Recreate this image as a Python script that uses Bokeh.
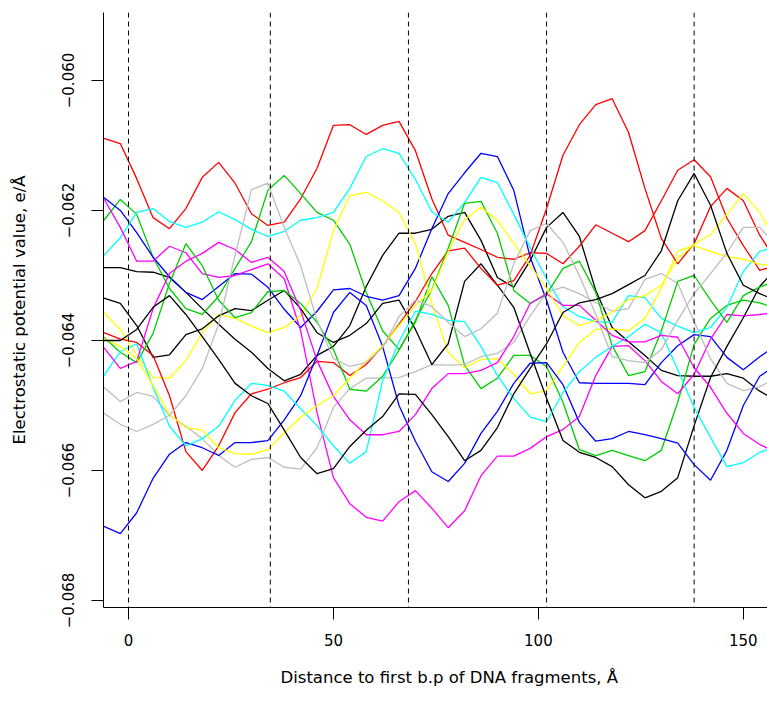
from bokeh.plotting import figure
from bokeh.models import Range1d, FixedTicker, Span, Title
from bokeh.embed import file_html
from bokeh.resources import INLINE

# Sample positions along the DNA (Å)
X = [-6, -2, 2, 6, 10, 14, 18, 22, 26, 30, 34, 38, 42, 46, 50, 54, 58, 62, 66, 70, 74,
     78, 82, 86, 90, 94, 98, 102, 106, 110, 114, 118, 122, 126, 130, 134, 138, 142, 146,
     150, 154, 158]

# Potential values in units of 1e-3 e/Å
black1 = [-62.88, -62.88, -62.94, -62.95, -63.03, -63.26, -63.51, -63.75, -63.98, -64.18,
          -64.43, -64.62, -64.52, -64.23, -64.09, -63.77, -63.17, -62.69, -62.35, -62.35,
          -62.29, -62.09, -62.03, -62.46, -63.03, -63.18, -62.77, -62.26, -62.03, -62.40,
          -63.23, -63.80, -64.02, -64.23, -64.46, -64.54, -64.55, -64.55, -64.51, -64.58,
          -64.78, -64.92]
red1 = [-60.89, -60.97, -61.51, -62.11, -62.28, -61.97, -61.49, -61.26, -61.58, -62.05,
        -62.23, -62.18, -61.82, -61.35, -60.69, -60.68, -60.83, -60.69, -60.63, -61.08,
        -61.82, -62.38, -62.49, -62.60, -62.72, -62.75, -62.65, -62.66, -62.82, -62.55,
        -62.22, -62.35, -62.48, -62.31, -61.85, -61.38, -61.22, -61.48, -62.12, -62.54,
        -62.92, -62.85]
green1 = [-62.15, -61.83, -62.06, -62.72, -63.20, -63.51, -63.60, -63.32, -62.89, -62.48,
          -61.69, -61.46, -61.74, -62.03, -62.15, -62.52, -63.26, -63.85, -64.14, -63.72,
          -63.02, -63.46, -64.38, -64.74, -64.58, -64.23, -64.23, -64.40, -64.95, -65.68,
          -65.77, -65.69, -65.77, -65.85, -65.69, -64.95, -64.06, -63.66, -63.46, -63.38,
          -63.42, -63.51]
blue1 = [-61.80, -62.00, -62.34, -62.72, -63.02, -63.26, -63.37, -63.17, -62.97, -62.98,
         -63.18, -63.52, -63.80, -63.55, -63.22, -63.20, -63.32, -63.38, -63.31, -62.89,
         -62.28, -61.74, -61.42, -61.12, -61.17, -61.69, -62.72, -63.38, -64.18, -64.65,
         -64.66, -64.66, -64.66, -64.68, -64.34, -64.08, -63.91, -63.94, -64.26, -64.45,
         -64.25, -64.08]
cyan1 = [-62.69, -62.42, -62.03, -61.97, -62.17, -62.26, -62.18, -62.02, -62.14, -62.29,
         -62.40, -62.32, -62.15, -62.11, -62.03, -61.66, -61.17, -61.05, -61.12, -61.52,
         -62.02, -62.18, -61.88, -61.49, -61.57, -62.06, -62.57, -63.05, -63.48, -63.63,
         -63.71, -63.72, -63.31, -63.34, -63.66, -63.78, -63.88, -63.80, -63.49, -62.94,
         -62.63, -62.55]
magenta1 = [-61.82, -62.26, -62.78, -62.78, -62.55, -62.65, -62.97, -63.03, -63.00, -62.91,
            -62.82, -63.05, -63.85, -65.11, -66.11, -66.51, -66.72, -66.78, -66.48, -66.31,
            -66.58, -66.88, -66.62, -66.08, -65.78, -65.78, -65.66, -65.48, -65.37, -65.17,
            -64.54, -64.09, -64.08, -64.31, -64.63, -64.82, -64.52, -63.98, -63.60, -63.62,
            -63.60, -63.57]
yellow1 = [-63.57, -63.83, -64.22, -64.57, -64.58, -64.31, -63.88, -63.60, -63.66, -63.78,
           -63.88, -63.80, -63.62, -63.20, -62.31, -61.77, -61.72, -61.85, -62.03, -62.51,
           -63.43, -64.18, -64.42, -64.29, -64.28, -64.52, -64.82, -64.77, -64.40, -64.03,
           -63.83, -63.82, -63.85, -63.66, -63.20, -62.62, -62.54, -62.63, -62.71, -62.75,
           -62.83, -62.86]
gray1 = [-64.72, -64.94, -64.80, -64.86, -65.15, -65.32, -65.51, -65.77, -65.95, -65.83,
         -65.80, -65.95, -65.98, -65.65, -65.03, -64.74, -64.58, -64.58, -64.57, -64.48,
         -64.37, -64.38, -64.37, -64.25, -64.20, -64.03, -63.62, -63.26, -63.18, -63.28,
         -63.42, -63.55, -63.51, -63.06, -62.97, -63.12, -63.71, -64.28, -64.66, -64.77,
         -64.71, -64.58]
black2 = [-63.35, -63.43, -63.77, -64.26, -64.22, -63.91, -63.82, -63.62, -63.51, -63.54,
          -63.38, -63.23, -63.51, -63.88, -64.03, -63.92, -63.74, -63.43, -63.38, -63.83,
          -64.37, -64.05, -63.09, -62.82, -63.15, -63.49, -64.20, -64.89, -65.54, -65.72,
          -65.80, -65.94, -66.22, -66.42, -66.32, -66.11, -65.31, -64.57, -64.09, -63.65,
          -63.17, -62.89]
red2 = [-63.88, -63.98, -64.03, -64.23, -64.85, -65.71, -66.00, -65.62, -65.11, -64.82,
        -64.75, -64.65, -64.57, -64.32, -64.34, -64.54, -64.37, -64.09, -63.75, -63.40,
        -62.97, -62.62, -62.58, -62.89, -63.15, -63.08, -62.69, -61.97, -61.15, -60.68,
        -60.37, -60.28, -60.80, -61.66, -62.43, -62.82, -62.51, -61.94, -61.66, -61.85,
        -62.38, -62.77]
green2 = [-63.95, -64.18, -64.34, -63.89, -63.12, -62.51, -62.85, -63.38, -63.65, -63.57,
          -63.25, -63.23, -63.43, -63.72, -64.14, -64.75, -64.78, -64.55, -64.15, -63.69,
          -63.22, -62.58, -61.89, -61.86, -62.35, -63.23, -63.43, -63.29, -62.89, -62.78,
          -63.26, -64.08, -64.54, -64.48, -63.85, -63.09, -63.00, -63.38, -63.72, -63.31,
          -63.18, -63.08]
blue2 = [-66.86, -66.97, -66.65, -66.12, -65.75, -65.57, -65.65, -65.77, -65.57, -65.57,
         -65.54, -65.22, -64.85, -64.23, -63.57, -63.26, -63.46, -64.09, -65.00, -65.55,
         -66.02, -66.17, -65.89, -65.43, -65.09, -64.66, -64.35, -64.34, -64.68, -65.26,
         -65.55, -65.51, -65.40, -65.45, -65.51, -65.58, -65.91, -66.15, -65.69, -65.00,
         -64.55, -64.38]
cyan2 = [-64.54, -64.17, -64.05, -64.72, -65.32, -65.62, -65.51, -65.32, -64.92, -64.66,
         -64.69, -64.78, -65.05, -65.31, -65.62, -65.89, -65.71, -64.62, -64.02, -63.55,
         -63.60, -63.69, -63.71, -64.09, -64.54, -64.89, -65.18, -65.25, -64.80, -64.48,
         -64.26, -64.09, -63.94, -63.75, -63.88, -64.45, -65.03, -65.49, -65.94, -65.88,
         -65.72, -65.63]
magenta2 = [-64.11, -64.43, -64.32, -63.51, -62.97, -62.78, -62.66, -62.49, -62.60, -62.80,
            -62.72, -62.94, -63.54, -64.31, -64.86, -65.22, -65.45, -65.45, -65.40, -65.14,
            -64.74, -64.51, -64.51, -64.46, -64.34, -63.94, -63.43, -63.28, -63.46, -63.46,
            -63.69, -63.92, -64.02, -64.02, -63.92, -63.95, -64.42, -64.72, -65.12, -65.43,
            -65.60, -65.72]
yellow2 = [-63.97, -64.09, -64.28, -64.69, -65.14, -65.34, -65.38, -65.65, -65.74, -65.75,
           -65.68, -65.42, -65.18, -65.00, -64.85, -64.58, -64.32, -64.08, -63.77, -63.46,
           -63.23, -62.63, -62.14, -61.95, -62.15, -62.51, -62.85, -63.20, -63.62, -63.77,
           -63.69, -63.57, -63.37, -63.31, -63.15, -62.74, -62.52, -62.37, -62.06, -61.74,
           -62.03, -62.46]
gray2 = [-65.12, -65.29, -65.40, -65.29, -65.15, -64.85, -64.43, -63.75, -62.69, -61.68,
         -61.58, -62.26, -62.85, -63.69, -64.28, -64.40, -64.34, -64.11, -63.63, -63.38,
         -63.48, -63.72, -63.94, -63.82, -63.58, -62.82, -62.31, -62.20, -62.49, -63.00,
         -63.60, -64.25, -64.31, -64.34, -64.14, -63.69, -63.28, -62.97, -62.65, -62.26,
         -62.26, -62.54]
black3 = [-64.00, -64.00, -63.83, -63.49, -63.31, -63.60, -63.94, -64.29, -64.66, -64.85,
          -64.97, -65.38, -65.80, -66.05, -65.97, -65.63, -65.38, -65.17, -64.82, -64.83,
          -65.14, -65.48, -65.85, -65.69, -65.34, -64.82, -64.43, -64.05, -63.57, -63.42,
          -63.37, -63.28, -63.14, -63.00, -62.62, -61.85, -61.43, -61.92, -62.66, -63.15,
          -63.28, -63.38]

MILLI = 1e-3
SERIES = [
    (black1, "#000000"), (red1, "#FF0000"), (green1, "#00CD00"), (blue1, "#0000FF"),
    (cyan1, "#00FFFF"), (magenta1, "#FF00FF"), (yellow1, "#FFFF00"), (gray1, "#BEBEBE"),
    (black2, "#000000"), (red2, "#FF0000"), (green2, "#00CD00"), (blue2, "#0000FF"),
    (cyan2, "#00FFFF"), (magenta2, "#FF00FF"), (yellow2, "#FFFF00"), (gray2, "#BEBEBE"),
    (black3, "#000000"),
]

VLINES = [0, 34.6, 68.3, 102, 138]
XTICKS = [0, 50, 100, 150]
YTICKS = [-0.068, -0.066, -0.064, -0.062, -0.060]
YLABELS = ["\u22120.068", "\u22120.066", "\u22120.064", "\u22120.062", "\u22120.060"]
XTITLE = "Distance to first b.p of DNA fragments, \u00c5"
YTITLE = "Electrostatic potential value, e/\u00c5"

FONT = "DejaVu Sans"

p = figure(width=767, height=704, output_backend="svg", toolbar_location=None,
           x_range=Range1d(-6.1, 155.9), y_range=Range1d(-0.068108, -0.058954),
           min_border_left=103, min_border_right=0, min_border_top=12,
           min_border_bottom=97)

for ys, col in SERIES:
    n = min(len(X), len(ys))
    p.line(X[:n], [v * MILLI for v in ys[:n]], line_color=col, line_width=1.3)

for v in VLINES:
    p.add_layout(Span(location=v, dimension="height", line_color="black",
                      line_width=1, line_dash="5 4"))

p.xgrid.visible = False
p.ygrid.visible = False
p.outline_line_color = None
p.background_fill_color = "white"
p.border_fill_color = "white"

p.xaxis.ticker = FixedTicker(ticks=XTICKS)
p.yaxis.ticker = FixedTicker(ticks=YTICKS)
p.yaxis.major_label_overrides = {t: l for t, l in zip(YTICKS, YLABELS)}
p.yaxis.major_label_orientation = "vertical"

for ax in (p.xaxis[0], p.yaxis[0]):
    ax.axis_line_color = "black"
    ax.axis_line_width = 1
    ax.major_tick_line_color = "black"
    ax.major_tick_out = 12
    ax.major_tick_in = 0
    ax.minor_tick_out = 0
    ax.minor_tick_in = 0
    ax.major_label_text_font = FONT
    ax.major_label_text_font_size = "15px"
    ax.major_label_text_color = "black"
    ax.axis_label_text_font = FONT
    ax.axis_label_text_font_size = "16.5px"
    ax.axis_label_text_font_style = "normal"
    ax.axis_label_text_color = "black"

p.yaxis.axis_label = YTITLE
p.xaxis.major_label_standoff = 14
p.yaxis.major_label_standoff = 17
p.yaxis.axis_label_standoff = 31

# x-axis title under the axis, shifted right as in the reference
p.add_layout(Title(text=XTITLE, align="left", offset=177, standoff=34,
                   vertical_align="bottom", text_font=FONT, text_font_size="16.5px",
                   text_font_style="normal", text_color="black"), "below")

open("out.html", "w").write(file_html(p, INLINE))
